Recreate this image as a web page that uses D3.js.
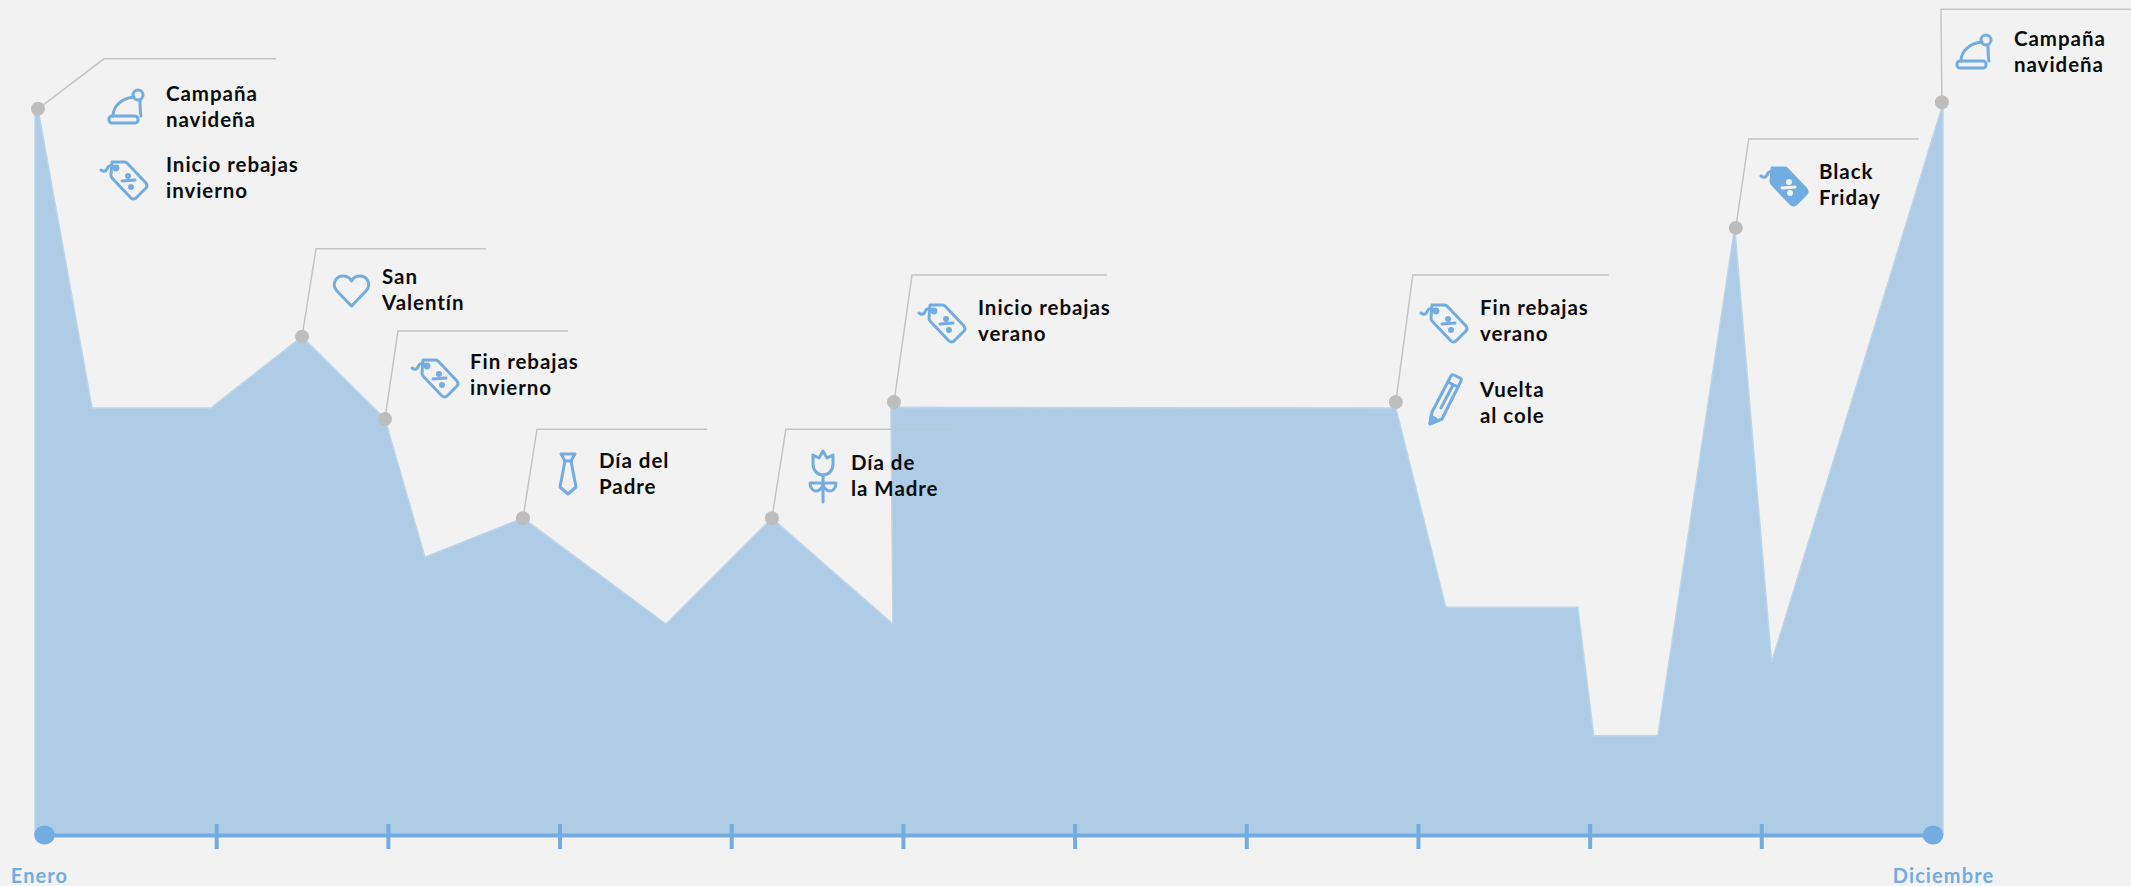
<!DOCTYPE html>
<html>
<head>
<meta charset="utf-8">
<script src="https://cdn.jsdelivr.net/npm/d3@7"></script>
<style>
html, body { margin: 0; padding: 0; background: #f2f2f2; overflow: hidden; }
text { font-family: Lato, "Noto Sans", sans-serif; }
</style>
</head>
<body>
<div id="chart"></div>
<script>
// Series, x in months after January, y as share of the peak
const areaMonths = [-0.055, -0.038, 0.277, 0.970, 1.5, 1.983, 2.216, 2.787, 3.62, 4.237, 4.942, 4.93, 7.871, 8.162, 8.931, 9.024, 9.397, 9.845, 10.06, 11.058];
const areaValues = [98, 98.8, 58.1, 58.1, 67.8, 56.6, 37.8, 43.1, 28.7, 43.1, 28.7, 58.2, 58.1, 31.0, 31.0, 13.5, 13.5, 82.7, 23.5, 99.5];

const tickMonths = [1, 2, 3, 4, 5, 6, 7, 8, 9, 10];
const endMonths = [0, 11];
const endLabels = ['Enero', 'Diciembre'];

// Events
const eventMonths = [-0.038, 1.5, 1.983, 2.787, 4.237, 4.948, 7.871, 9.851, 11.052];
const eventValues = [98.8, 67.8, 56.6, 43.1, 43.1, 58.9, 58.9, 82.6, 99.7];

// Callout layout: elbow offset from the dot + length of the flat part
const calloutElbows = [[66, -50, 172], [14, -88, 170], [13, -88, 170], [14, -89, 170], [14, -89, 169], [18, -127, 195], [17, -127, 196], [13, -89, 170], [-1, -93, 190]];

// one row per label: text lines, icon, text x, first baseline, icon x, icon y
const labelLines = [['Campaña', 'navideña'], ['Inicio rebajas', 'invierno'], ['San', 'Valentín'], ['Fin rebajas', 'invierno'], ['Día del', 'Padre'], ['Día de', 'la Madre'], ['Inicio rebajas', 'verano'], ['Fin rebajas', 'verano'], ['Vuelta', 'al cole'], ['Black', 'Friday'], ['Campaña', 'navideña']];
const labelIcons = ['hat', 'tag', 'heart', 'tag', 'tie', 'tulip', 'tag', 'tag', 'pencil', 'tagFilled', 'hat'];
const labelPos = [[166, 101], [166, 172], [382, 284], [470, 369], [599, 468], [851, 470], [978, 315], [1480, 315], [1480, 397], [1819, 179], [2014, 46]];
const iconPos = [[108, 89], [100, 160], [333, 275], [411, 358], [559, 453], [809, 450], [918, 303], [1420, 303], [1429, 373], [1760, 166], [1956, 34]];

const W = 2131, H = 886;
const BLUE = '#72ace0', GREY = '#bdbdbd';

const svg = d3.select('#chart').append('svg').attr('width', W).attr('height', H)
	.style('display', 'block');
svg.append('rect').attr('width', W).attr('height', H).attr('fill', '#f2f2f2');

const x = d3.scaleLinear().domain([0, 11]).range([44.5, 1933]);
const y = d3.scaleLinear().domain([0, 100]).range([835, 100]);

// Area
const area = d3.area()
	.x((d, i) => x(areaMonths[i]))
	.y0(y(0))
	.y1(d => y(d));

svg.append('path')
	.datum(areaValues)
	.attr('d', area)
	.attr('fill', '#aecce6')
	.attr('stroke', '#bbd5ea')
	.attr('stroke-width', 1.5);

// Axis
const axis = svg.append('g')
	.attr('transform', `translate(0,${y(0)})`)
	.call(d3.axisBottom(x).tickValues(tickMonths).tickSize(14).tickSizeOuter(0).tickFormat(''));
axis.select('.domain').attr('stroke', BLUE).attr('stroke-width', 4);
axis.selectAll('.tick line')
	.attr('stroke', BLUE)
	.attr('stroke-width', 4)
	.attr('y1', -11);

svg.selectAll('.end-dot')
	.data(endMonths)
	.enter().append('ellipse')
	.attr('class', 'end-dot')
	.attr('cx', d => x(d))
	.attr('cy', y(0))
	.attr('rx', 10.3)
	.attr('ry', 9.6)
	.attr('fill', BLUE);

svg.selectAll('.end-label')
	.data(endLabels)
	.enter().append('text')
	.attr('class', 'end-label')
	.attr('x', (d, i) => i === 0 ? 39.5 : 1943.5)
	.attr('y', 883)
	.attr('text-anchor', 'middle')
	.attr('fill', BLUE)
	.attr('font-size', 20)
	.attr('font-weight', 700)
	.attr('letter-spacing', 1.1)
	.text(d => d);

// Leader lines
const leader = d3.line();
svg.selectAll('.leader')
	.data(eventMonths)
	.enter().append('path')
	.attr('class', 'leader')
	.attr('fill', 'none')
	.attr('stroke', '#c4c4c4')
	.attr('stroke-width', 1.5)
	.attr('d', (d, i) => {
		const px = x(d), py = y(eventValues[i]);
		const [dx, dy, len] = calloutElbows[i];
		return leader([[px, py], [px + dx, py + dy], [px + dx + len, py + dy]]);
	});

svg.selectAll('.event-dot')
	.data(eventMonths)
	.enter().append('circle')
	.attr('class', 'event-dot')
	.attr('cx', d => x(d))
	.attr('cy', (d, i) => y(eventValues[i]))
	.attr('r', 7)
	.attr('fill', GREY);

// Icons, each one drawn from its top left corner
const icons = {
	hat(g) {
		line(g, 'M5 27 C5 17 14 9 26 8 M32 11 C32 16 32 22 33 27');
		g.append('rect').attr('x', 1).attr('y', 27).attr('width', 29).attr('height', 7).attr('rx', 3);
		g.append('circle').attr('cx', 30).attr('cy', 6).attr('r', 5);
	},
	tag(g) {
		line(g, 'M12 2 H24 Q26 2 27 3 L46 23 Q48 26 46 28 L36 38 Q33 40 31 38 L12 18 Q11 17 11 15 Z');
		line(g, 'M1 10 Q5 13 7 9 Q8 5 12 6 L16 8');
		line(g, 'M22 21 L35 20');
		dot(g, 16, 8, 3.4, BLUE);
		dot(g, 28, 16, 3, BLUE);
		dot(g, 31, 27, 3, BLUE);
	},
	tagFilled(g) {
		g.append('path')
			.attr('d', 'M12 2 H24 Q26 2 27 3 L46 23 Q48 26 46 28 L36 38 Q33 40 31 38 L12 18 Q11 17 11 15 Z')
			.attr('fill', BLUE);
		line(g, 'M1 10 Q5 13 7 9 Q8 5 12 6');
		g.append('path').attr('d', 'M22 22 L35 21').attr('stroke', '#f2f2f2');
		dot(g, 29, 16, 3, '#f2f2f2');
		dot(g, 30, 27, 3, '#f2f2f2');
	},
	heart(g) {
		line(g, 'M18.5 31 L4 16 C-2 9 3 1 10 1 C14 1 17 3 18.5 6 C20 3 23 1 27 1 C34 1 39 9 33 16 Z');
	},
	tie(g) {
		line(g, 'M2 1 H16 L12 8 H6 Z');
		line(g, 'M6 8 L1 34 L9 41 L17 34 L12 8');
	},
	tulip(g) {
		line(g, 'M4 5 V14 C4 21 9 25 14 25 C19 25 24 21 24 14 V5 L18 8 L14 1 L10 8 Z');
		line(g, 'M14 25 V52');
		line(g, 'M1 33 H14 C14 38 10 41 7 41 C4 41 1 38 1 33 Z');
		line(g, 'M27 33 H14 C14 38 18 41 21 41 C24 41 27 38 27 33 Z');
	},
	pencil(g) {
		line(g, 'M3 39 L22 3 Q23 1 25 2 L31 5 Q33 6 32 8 L13 46 L1 51 Z');
		line(g, 'M19 9 L29 14');
		line(g, 'M12 35 L24 12');
		g.append('path').attr('d', 'M2 43 L7 46 L1 51 Z').attr('fill', BLUE);
	}
};

function line(g, d) {
	return g.append('path').attr('d', d);
}
function dot(g, cx, cy, r, fill) {
	g.append('circle').attr('cx', cx).attr('cy', cy).attr('r', r)
		.attr('fill', fill).attr('stroke', 'none');
}

labelIcons.forEach((name, i) => {
	const g = svg.append('g')
		.attr('class', 'icon')
		.attr('transform', `translate(${iconPos[i][0]},${iconPos[i][1]})`)
		.attr('fill', 'none')
		.attr('stroke', BLUE)
		.attr('stroke-width', 3)
		.attr('stroke-linejoin', 'round')
		.attr('stroke-linecap', 'round');
	icons[name](g);
});

// Labels
const labels = svg.selectAll('.label')
	.data(labelLines)
	.enter().append('text')
	.attr('class', 'label')
	.attr('fill', '#0c0c0c')
	.attr('font-size', 20.5)
	.attr('font-weight', 700)
	.attr('letter-spacing', 0.95);

labels.selectAll('tspan')
	.data((d, i) => d.map((s, j) => ({s, j, i})))
	.enter().append('tspan')
	.attr('x', d => labelPos[d.i][0])
	.attr('y', d => labelPos[d.i][1] + d.j * 25.5)
	.text(d => d.s);
</script>
</body>
</html>
